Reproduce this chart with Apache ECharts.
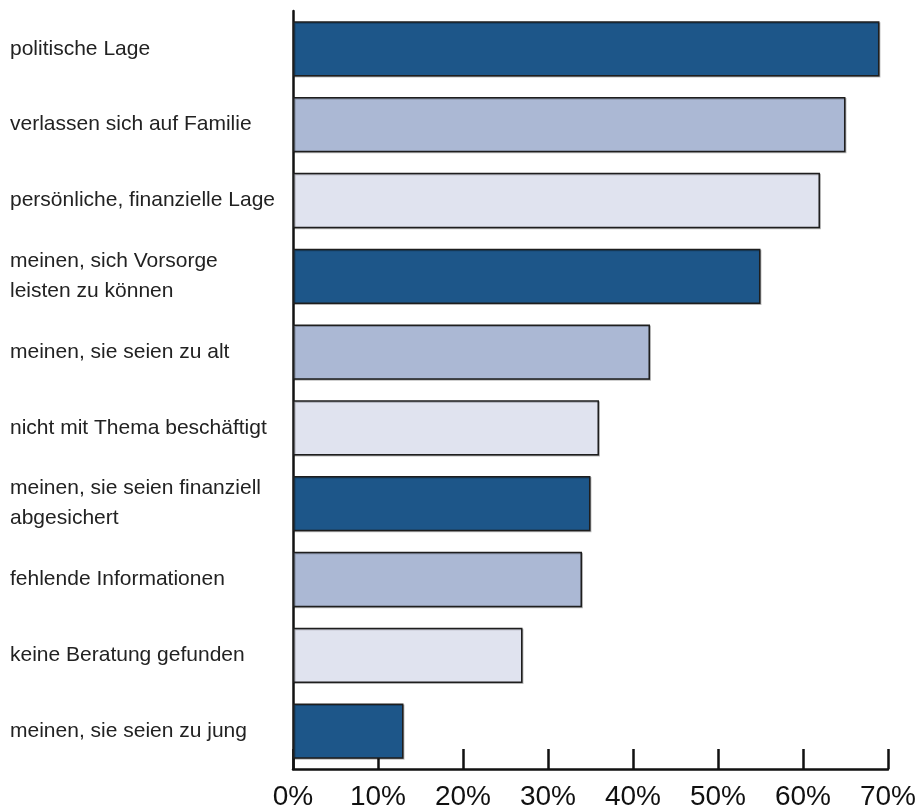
<!DOCTYPE html>
<html>
<head>
<meta charset="utf-8">
<script src="https://cdn.jsdelivr.net/npm/echarts@6/dist/echarts.min.js"></script>
<style>
  html, body { margin: 0; padding: 0; background: #ffffff; }
  #chart { width: 919px; height: 811px; }
</style>
</head>
<body>
<div id="chart"></div>
<script>
// Reasons given, top to bottom
const categories = [
  'politische Lage',
  'verlassen sich auf Familie',
  'persönliche, finanzielle Lage',
  'meinen, sich Vorsorge\nleisten zu können',
  'meinen, sie seien zu alt',
  'nicht mit Thema beschäftigt',
  'meinen, sie seien finanziell\nabgesichert',
  'fehlende Informationen',
  'keine Beratung gefunden',
  'meinen, sie seien zu jung'
];
// Share of respondents, percent
const values = [69, 65, 62, 55, 42, 36, 35, 34, 27, 13];
// Fill cycles dark / medium / light blue
const palette = ['#1d5689', '#abb8d4', '#e0e3ef'];
const axisTicks = [0, 10, 20, 30, 40, 50, 60, 70];

const chart = echarts.init(document.getElementById('chart'), null, { renderer: 'canvas' });

chart.setOption({
  animation: false,
  backgroundColor: '#ffffff',
  grid: { left: 293, right: 27, top: 11, bottom: 42, containLabel: false },
  xAxis: {
    type: 'value',
    min: axisTicks[0],
    max: axisTicks[axisTicks.length - 1],
    interval: 10,
    axisLine: { show: true, lineStyle: { color: '#111', width: 2.5 } },
    axisTick: { show: true, inside: true, length: 20, lineStyle: { color: '#111', width: 2.5 } },
    splitLine: { show: false },
    axisLabel: {
      formatter: v => v + '%',
      color: '#111',
      fontFamily: 'Liberation Sans, Arial, sans-serif',
      fontSize: 28,
      margin: 14
    }
  },
  yAxis: {
    type: 'category',
    data: categories,
    inverse: true,
    axisLine: { show: true, lineStyle: { color: '#111', width: 2.5 } },
    axisTick: { show: false },
    axisLabel: {
      align: 'left',
      margin: 283,
      color: '#222',
      fontFamily: 'Liberation Sans, Arial, sans-serif',
      fontSize: 21,
      lineHeight: 30
    }
  },
  series: [{
    type: 'bar',
    data: values.map((v, i) => ({
      value: v,
      itemStyle: { color: palette[i % palette.length] }
    })),
    barCategoryGap: '27%',
    itemStyle: {
      borderColor: '#1e1e1e',
      borderWidth: 1.5,
      shadowColor: 'rgba(0,0,0,0.25)',
      shadowBlur: 0,
      shadowOffsetX: 1,
      shadowOffsetY: 1
    },
    z: 1
  }]
});
</script>
</body>
</html>
